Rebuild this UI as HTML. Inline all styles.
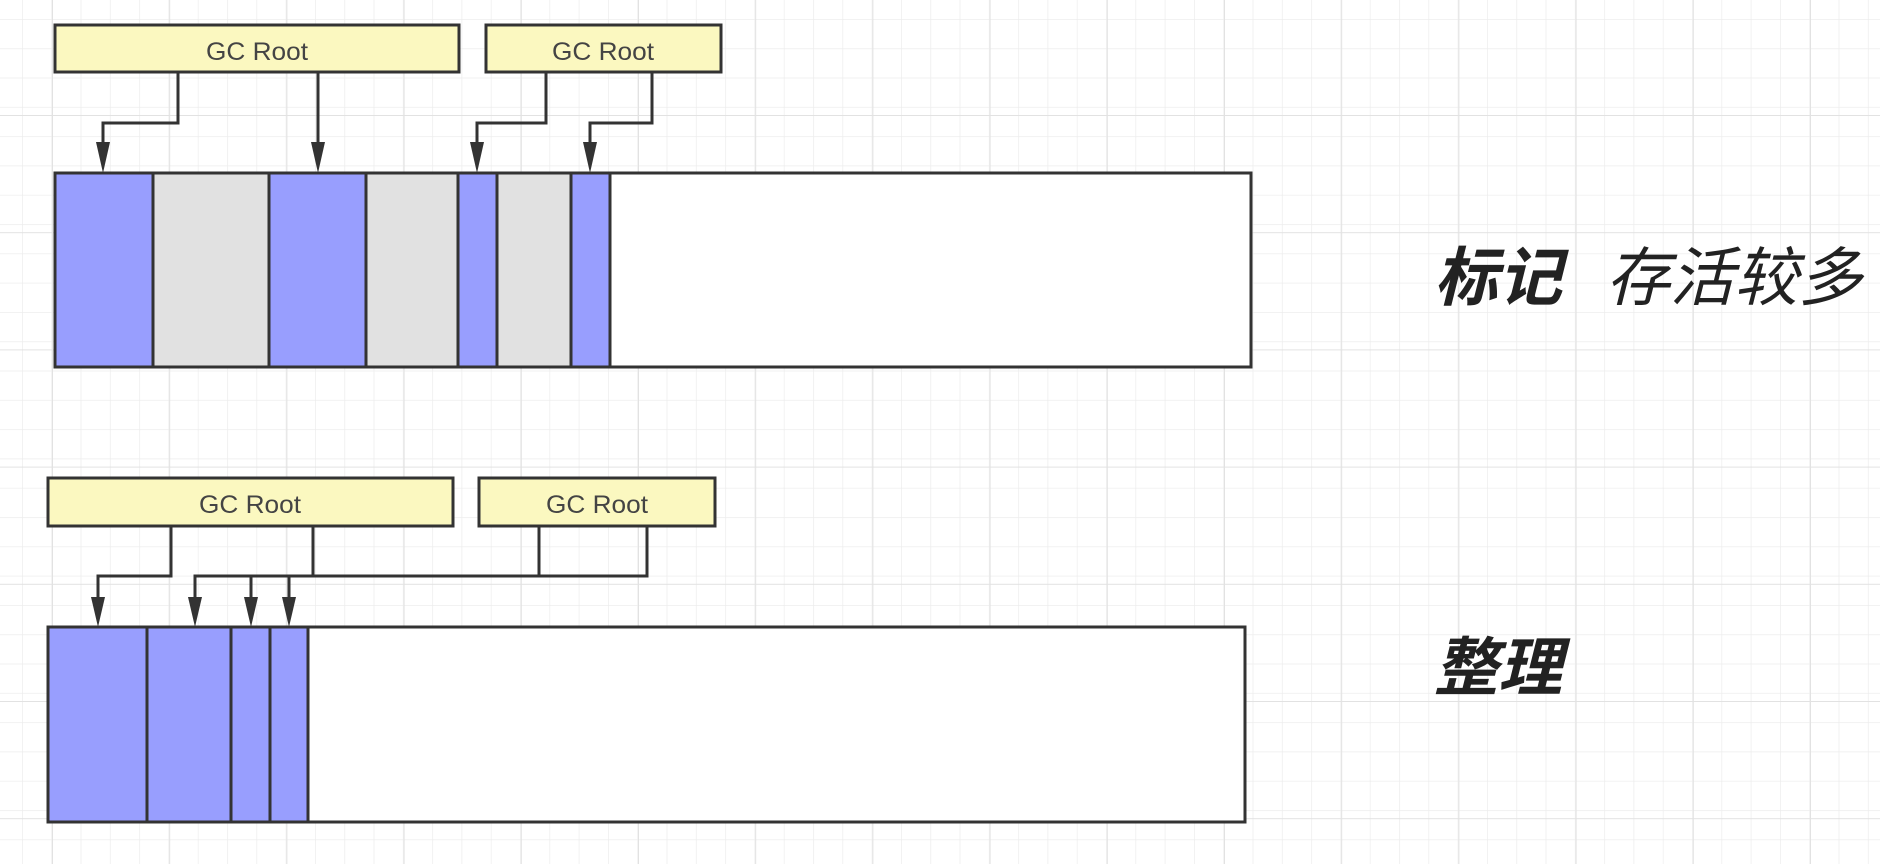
<!DOCTYPE html>
<html><head><meta charset="utf-8"><style>
html,body{margin:0;padding:0;width:1880px;height:864px;overflow:hidden;background:#fff}
svg{display:block}
</style></head><body>
<svg width="1880" height="864" xmlns="http://www.w3.org/2000/svg">
<defs>
<pattern id="minor" x="22" y="19" width="29.3" height="29.3" patternUnits="userSpaceOnUse">
<path d="M0 0H29.3M0 0V29.3" stroke="#ededed" stroke-width="1.5" fill="none"/></pattern>
<pattern id="major" x="52" y="115" width="117.2" height="117.2" patternUnits="userSpaceOnUse">
<path d="M0 0H117.2M0 0V117.2" stroke="#e2e2e2" stroke-width="2" fill="none"/></pattern>
</defs>
<rect width="1880" height="864" fill="url(#minor)"/>
<rect width="1880" height="864" fill="url(#major)"/>

<g stroke="#333" stroke-width="3">
<!-- top -->
<rect x="55" y="173" width="1196" height="194" fill="#fff"/>
<rect x="55" y="173" width="98" height="194" fill="#989efe"/>
<rect x="153" y="173" width="116" height="194" fill="#e1e1e1"/>
<rect x="269" y="173" width="97" height="194" fill="#989efe"/>
<rect x="366" y="173" width="92" height="194" fill="#e1e1e1"/>
<rect x="458" y="173" width="39" height="194" fill="#989efe"/>
<rect x="497" y="173" width="74" height="194" fill="#e1e1e1"/>
<rect x="571" y="173" width="39" height="194" fill="#989efe"/>
<rect x="55" y="25" width="404" height="47" fill="#fbf8c0"/>
<rect x="486" y="25" width="235" height="47" fill="#fbf8c0"/>
<g fill="none">
<polyline points="178,72 178,123 103,123 103,145"/>
<line x1="318" y1="72" x2="318" y2="145"/>
<polyline points="546,72 546,123 477,123 477,145"/>
<polyline points="652,72 652,123 590,123 590,145"/>
</g>
<!-- bottom -->
<rect x="48" y="627" width="1197" height="195" fill="#fff"/>
<rect x="48" y="627" width="99" height="195" fill="#989efe"/>
<rect x="147" y="627" width="84" height="195" fill="#989efe"/>
<rect x="231" y="627" width="39" height="195" fill="#989efe"/>
<rect x="270" y="627" width="38" height="195" fill="#989efe"/>
<rect x="48" y="478" width="405" height="48" fill="#fbf8c0"/>
<rect x="479" y="478" width="236" height="48" fill="#fbf8c0"/>
<g fill="none">
<polyline points="171,526 171,576 98,576 98,600"/>
<polyline points="313,526 313,576"/>
<polyline points="195,600 195,576 647,576 647,526"/>
<line x1="539" y1="526" x2="539" y2="576"/>
<line x1="251" y1="576" x2="251" y2="600"/>
<line x1="289" y1="576" x2="289" y2="600"/>
</g>
</g>
<g fill="#333">
<polygon points="96,142 110,142 103,173"/>
<polygon points="311,142 325,142 318,173"/>
<polygon points="470,142 484,142 477,173"/>
<polygon points="583,142 597,142 590,173"/>
<polygon points="91,597 105,597 98,627"/>
<polygon points="188,597 202,597 195,627"/>
<polygon points="244,597 258,597 251,627"/>
<polygon points="282,597 296,597 289,627"/>
</g>
<g font-family="Liberation Sans, sans-serif" font-size="25" fill="#444" text-anchor="middle">
<text x="257" y="60" textLength="102" lengthAdjust="spacingAndGlyphs">GC Root</text>
<text x="603" y="60" textLength="102" lengthAdjust="spacingAndGlyphs">GC Root</text>
<text x="250" y="513" textLength="102" lengthAdjust="spacingAndGlyphs">GC Root</text>
<text x="597" y="513" textLength="102" lengthAdjust="spacingAndGlyphs">GC Root</text>
</g>
<g font-family="Liberation Sans, 'Noto Sans CJK SC', sans-serif" font-size="64" fill="#222" font-style="italic">
<text x="1434" y="300" font-weight="bold">标记</text>
<text x="1606" y="300">存活较多</text>
<text x="1434" y="690" font-weight="bold">整理</text>
</g>
</svg>
</body></html>
